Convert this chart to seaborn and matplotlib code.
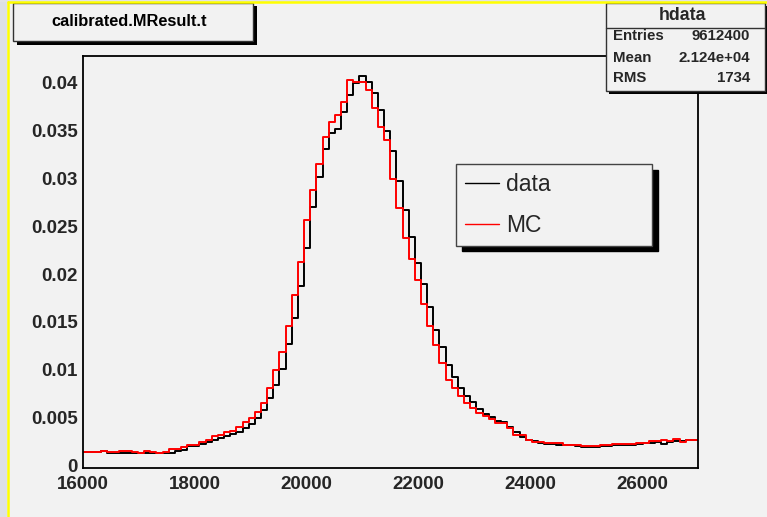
import numpy as np
import pandas as pd
import matplotlib
matplotlib.use("Agg")
import matplotlib.pyplot as plt
import matplotlib.transforms as mtransforms
import seaborn as sns
from matplotlib.patches import Rectangle
from matplotlib.lines import Line2D
from matplotlib.ticker import MultipleLocator, FixedLocator, FixedFormatter

# ---------------- data ----------------
x_start = 16000
x_stop = 27000
n_bins = 100

data_values = [
    0.00166, 0.00166, 0.00166, 0.0018, 0.0016, 0.0016, 0.0016, 0.0016, 0.0016, 0.0016,
    0.0016, 0.0016, 0.0016, 0.0016, 0.0016, 0.0018, 0.0019, 0.0023, 0.0023, 0.0025,
    0.0027, 0.0030, 0.0032, 0.0034, 0.0036, 0.0038, 0.0042, 0.0046, 0.0052, 0.0061,
    0.0073, 0.0087, 0.0104, 0.0130, 0.0157, 0.0190, 0.0230, 0.0273, 0.0304, 0.0333,
    0.0350, 0.0354, 0.0372, 0.0389, 0.0402, 0.0409, 0.0403, 0.0391, 0.0374, 0.0352,
    0.0331, 0.0300, 0.0269, 0.0241, 0.0214, 0.0192, 0.0168, 0.0144, 0.0127, 0.0108,
    0.0095, 0.0084, 0.0075, 0.0069, 0.0062, 0.0057, 0.0053, 0.0049, 0.0048, 0.0043,
    0.0038, 0.0033, 0.00295, 0.0028, 0.0026, 0.00253, 0.0025, 0.0024, 0.0024, 0.0024,
    0.0023, 0.00225, 0.00225, 0.00225, 0.0023, 0.0023, 0.0024, 0.0024, 0.0024, 0.0024,
    0.0025, 0.0026, 0.0026, 0.0027, 0.0025, 0.0027, 0.0028, 0.0028, 0.0029, 0.0029,
]

mc_values = [
    0.00173, 0.00173, 0.00173, 0.00184, 0.0017, 0.0017, 0.00184, 0.00184, 0.0017, 0.0016,
    0.00184, 0.0017, 0.0016, 0.0017, 0.0020, 0.0020, 0.0022, 0.0024, 0.0024, 0.0027,
    0.0030, 0.00337, 0.00351, 0.00375, 0.00392, 0.0043, 0.00486, 0.00521, 0.0059, 0.0068,
    0.0084, 0.0102, 0.0121, 0.0148, 0.0181, 0.0215, 0.0259, 0.0290, 0.0317, 0.0346,
    0.0361, 0.0368, 0.0382, 0.0405, 0.0403, 0.0403, 0.0395, 0.0376, 0.0356, 0.0342,
    0.0302, 0.0271, 0.0240, 0.0218, 0.0196, 0.0171, 0.0148, 0.0129, 0.0110, 0.0092,
    0.0084, 0.0075, 0.0068, 0.0063, 0.0058, 0.0055, 0.0051, 0.0047, 0.0047, 0.0042,
    0.0035, 0.0035, 0.0030, 0.0027, 0.0027, 0.0026, 0.0026, 0.0026, 0.00243, 0.00243,
    0.00243, 0.00236, 0.00236, 0.00236, 0.00243, 0.00243, 0.0025, 0.0025, 0.0025, 0.0025,
    0.00267, 0.00267, 0.0028, 0.0028, 0.00295, 0.0028, 0.00305, 0.0027, 0.00295, 0.0029,
]

series_labels = ["data", "MC"]
x_ticks = [16000, 18000, 20000, 22000, 24000, 26000]
x_tick_labels = ["16000", "18000", "20000", "22000", "24000", "26000"]
y_ticks = [0, 0.005, 0.01, 0.015, 0.02, 0.025, 0.03, 0.035, 0.04]
y_tick_labels = ["0", "0.005", "0.01", "0.015", "0.02", "0.025", "0.03", "0.035", "0.04"]

title_text = "calibrated.MResult.t"
stats_title = "hdata"
stats_names = ["Entries", "Mean", "RMS"]
stats_values = ["9612400", "2.124e+04", "1734"]

# ---------------- figure ----------------
W, H = 767, 517
BG = "#f2f2f2"
sns.set_style("white")
plt.rcParams["font.family"] = ["Liberation Sans", "DejaVu Sans"]

fig = plt.figure(figsize=(W / 100, H / 100), dpi=100, facecolor=BG)

ax_l, ax_r, ax_t, ax_b = 82.5, 698.0, 56.0, 468.3
ax = fig.add_axes([ax_l / W, 1 - ax_b / H, (ax_r - ax_l) / W, (ax_b - ax_t) / H])
ax.set_facecolor(BG)

bin_width = (x_stop - x_start) / n_bins
centers = x_start + bin_width * (np.arange(n_bins) + 0.5)
df = pd.DataFrame({"x": centers, "w_data": data_values, "w_mc": mc_values})

sns.histplot(data=df, x="x", weights="w_data", bins=n_bins, binrange=(x_start, x_stop),
             element="step", fill=False, color="black", linewidth=1.4,
             label=series_labels[0], ax=ax)
sns.histplot(data=df, x="x", weights="w_mc", bins=n_bins, binrange=(x_start, x_stop),
             element="step", fill=False, color="#ff0000", linewidth=1.4,
             label=series_labels[1], ax=ax)

ax.set_xlim(x_start, x_stop)
ax.set_ylim(0, 0.0430)
ax.set_xlabel("")
ax.set_ylabel("")

ax.xaxis.set_major_locator(FixedLocator(x_ticks))
ax.xaxis.set_major_formatter(FixedFormatter(x_tick_labels))
ax.xaxis.set_minor_locator(MultipleLocator(500))
ax.yaxis.set_major_locator(FixedLocator(y_ticks))
ax.yaxis.set_major_formatter(FixedFormatter(y_tick_labels))
ax.yaxis.set_minor_locator(MultipleLocator(0.001))

ax.tick_params(axis="both", which="both", direction="in", top=False, right=False,
               width=1.2, color="black", labelsize=13.5)
ax.tick_params(axis="x", which="major", length=11.5, pad=5.5)
ax.tick_params(axis="x", which="minor", length=6.5)
ax.tick_params(axis="y", which="major", length=13.5, pad=3.5)
ax.tick_params(axis="y", which="minor", length=6.5)
y_shift = mtransforms.ScaledTranslation(0, 2.5 / 100, fig.dpi_scale_trans)
for lab in ax.get_xticklabels() + ax.get_yticklabels():
    lab.set_fontweight("bold")
for lab in ax.get_yticklabels():
    lab.set_transform(lab.get_transform() + y_shift)

for sp in ax.spines.values():
    sp.set_visible(True)
    sp.set_color("black")
    sp.set_linewidth(1.3)

leg = ax.legend(
    loc="upper left",
    bbox_to_anchor=((456 - ax_l) / (ax_r - ax_l), (ax_b - 245) / (ax_b - ax_t),
                    (652 - 456) / (ax_r - ax_l), (245 - 164) / (ax_b - ax_t)),
    mode="expand", fontsize=16.5, frameon=True, fancybox=False,
    borderpad=0.38, labelspacing=0.8, handlelength=1.5, handletextpad=0.3,
    borderaxespad=0.0,
    shadow={"ox": 4, "oy": -4, "facecolor": "black", "edgecolor": "black", "alpha": 1},
)
leg.get_frame().set_facecolor(BG)
leg.get_frame().set_edgecolor("#444444")
leg.get_frame().set_linewidth(1.0)
leg.get_frame().set_alpha(1)
for ln in leg.get_lines():
    ln.set_linewidth(1.0)

# ---------------- overlay (canvas decorations, title & stats boxes) ----------------
ov = fig.add_axes([0, 0, 1, 1], zorder=10)
ov.set_xlim(0, W)
ov.set_ylim(H, 0)
ov.axis("off")
ov.patch.set_alpha(0)

ov.add_patch(Rectangle((0, 0), 6.5, H, facecolor="#dde0e5", edgecolor="none"))
ov.add_patch(Rectangle((0, 0), W, 1.5, facecolor="#e2e3e6", edgecolor="none"))
ov.add_line(Line2D([7.5, 7.5], [2, H], color="#ffff00", lw=1.8))
ov.add_line(Line2D([7.5, W], [2.2, 2.2], color="#ffff00", lw=1.8))

# title box
ov.add_patch(Rectangle((16.5, 6.0), 240, 39, facecolor="black", edgecolor="none"))
ov.add_patch(Rectangle((13, 3.0), 240, 38, facecolor=BG, edgecolor="#333333", lw=1.0))
ov.text(129, 21, title_text, ha="center", va="center", fontsize=11.8,
        fontweight="bold", color="black")

# stats box
sx0, sx1, sy0, sy1 = 606, 765, 3.0, 91
ov.add_patch(Rectangle((sx0 + 3, sy0 + 3), sx1 - sx0, sy1 - sy0, facecolor="black", edgecolor="none"))
ov.add_patch(Rectangle((sx0, sy0), sx1 - sx0, sy1 - sy0, facecolor=BG, edgecolor="#333333", lw=1.0))
ov.add_line(Line2D([sx0, sx1], [27.5, 27.5], color="#333333", lw=1.0))
ov.text((sx0 + sx1) / 2 - 3, 15.5, stats_title, ha="center", va="center",
        fontsize=12.8, fontweight="bold")
row_y = [36, 57.5, 78]
for name, val, yy in zip(stats_names, stats_values, row_y):
    ov.text(613, yy, name, ha="left", va="center", fontsize=10.8, fontweight="bold")
    ov.text(750, yy, val, ha="right", va="center", fontsize=10.8, fontweight="bold")

fig.savefig("out.png", dpi=100, facecolor=BG)
